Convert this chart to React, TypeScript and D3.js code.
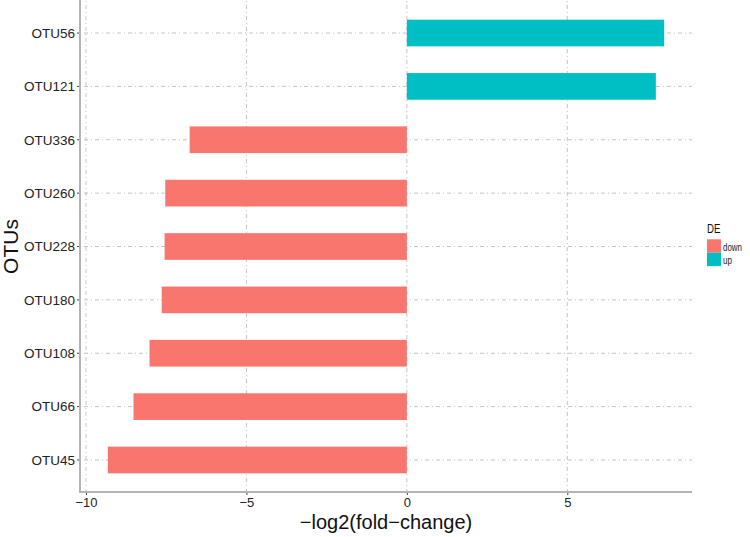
import React, { useRef, useEffect } from 'react';
import * as d3 from 'd3';

// OTUs from top to bottom
const otus = ['OTU56', 'OTU121', 'OTU336', 'OTU260', 'OTU228', 'OTU180', 'OTU108', 'OTU66', 'OTU45'];
const foldChange = [8.02, 7.76, -6.77, -7.53, -7.55, -7.64, -8.02, -8.52, -9.32];
const deGroups = ['down', 'up'];
const deColors = ['#F8766D', '#00BFC4'];
const xTicks = [-10, -5, 0, 5];

const App = () => {
  const svgRef = useRef<SVGSVGElement>(null);

  useEffect(() => {
    const svg = d3.select(svgRef.current);
    svg.selectAll('*').remove();

    const width = 750;
    const height = 537;
    const margin = { top: 1, right: 58, bottom: 45, left: 80 };
    const innerW = width - margin.left - margin.right;
    const innerH = height - margin.top - margin.bottom;
    const font = 'Liberation Sans, Arial, sans-serif';

    const data = otus.map((o, i) => ({ otu: o, value: foldChange[i], de: foldChange[i] < 0 ? 'down' : 'up' }));

    // ggplot-like 5% expansion on continuous axis
    const lo = d3.min(foldChange) as number;
    const hi = d3.max(foldChange) as number;
    const pad = (hi - lo) * 0.05;
    const x = d3.scaleLinear().domain([lo - pad, hi + pad]).range([0, innerW]);

    // discrete axis with 0.6 expansion
    const step = innerH / (otus.length - 1 + 1.2);
    const y = (o: string) => (otus.indexOf(o) + 0.6) * step;
    const barH = step * 0.5;

    const color = d3.scaleOrdinal<string, string>().domain(deGroups).range(deColors);

    const g = svg.append('g').attr('transform', `translate(${margin.left},${margin.top})`);

    // grid
    const gridStyle = (sel: any) =>
      sel.attr('stroke', '#c4c4c4').attr('stroke-width', 1).attr('stroke-dasharray', '1 3 4 3');
    g.selectAll('.vgrid')
      .data(xTicks)
      .enter()
      .append('line')
      .attr('x1', d => x(d))
      .attr('x2', d => x(d))
      .attr('y1', 0)
      .attr('y2', innerH)
      .call(gridStyle);
    g.selectAll('.hgrid')
      .data(otus)
      .enter()
      .append('line')
      .attr('x1', 0)
      .attr('x2', innerW)
      .attr('y1', d => y(d))
      .attr('y2', d => y(d))
      .call(gridStyle);

    // bars
    g.selectAll('.bar')
      .data(data)
      .enter()
      .append('rect')
      .attr('x', d => x(Math.min(0, d.value)))
      .attr('width', d => Math.abs(x(d.value) - x(0)))
      .attr('y', d => y(d.otu) - barH / 2)
      .attr('height', barH)
      .attr('fill', d => color(d.de));

    // axes
    const xAxis = d3.axisBottom(x).tickValues(xTicks).tickSize(3).tickPadding(3).tickFormat(d => String(d).replace('-', '\u2212'));
    const xg = g.append('g').attr('transform', `translate(0,${innerH})`).call(xAxis);
    xg.select('.domain').remove();
    xg.selectAll('line').attr('stroke', '#444');
    xg.selectAll('text').attr('font-size', 13).attr('font-family', font).attr('fill', '#222');

    const yg = g.append('g');
    otus.forEach(o => {
      yg.append('line').attr('x1', -3).attr('x2', 0).attr('y1', y(o)).attr('y2', y(o)).attr('stroke', '#444');
      yg.append('text')
        .attr('x', -5)
        .attr('y', y(o))
        .attr('dy', '0.36em')
        .attr('text-anchor', 'end')
        .attr('font-size', 13.5)
        .attr('font-family', font)
        .attr('fill', '#222')
        .text(o);
    });

    g.append('line').attr('x1', 0).attr('x2', 0).attr('y1', -1).attr('y2', innerH + 1)
      .attr('stroke', '#b3b3b3').attr('stroke-width', 2);
    g.append('line').attr('x1', -1).attr('x2', innerW).attr('y1', innerH).attr('y2', innerH)
      .attr('stroke', '#b3b3b3').attr('stroke-width', 2);

    // axis titles
    svg.append('text')
      .attr('x', margin.left + innerW / 2)
      .attr('y', 529)
      .attr('text-anchor', 'middle')
      .attr('font-size', 20)
      .attr('font-family', font)
      .attr('fill', '#111')
      .text('\u2212log2(fold\u2212change)');
    svg.append('text')
      .attr('transform', `translate(18,${margin.top + innerH / 2}) rotate(-90)`)
      .attr('text-anchor', 'middle')
      .attr('font-size', 21)
      .attr('font-family', font)
      .attr('fill', '#111')
      .text('OTUs');

    // legend (text is drawn narrow, as in the reference)
    const lg = svg.append('g').attr('transform', 'translate(707,222)');
    lg.append('text').attr('x', 0).attr('y', 11.3).attr('font-size', 12).attr('font-family', font)
      .attr('fill', '#111').attr('textLength', 13.5).attr('lengthAdjust', 'spacingAndGlyphs').text('DE');
    const keyH = 13.4;
    const lens = [19, 9];
    deGroups.forEach((d, i) => {
      lg.append('rect').attr('x', 0).attr('y', 17.3 + i * keyH).attr('width', 14).attr('height', keyH).attr('fill', color(d));
      lg.append('text')
        .attr('x', 16)
        .attr('y', 17.3 + i * keyH + keyH / 2 + 4.5)
        .attr('font-size', 11.5)
        .attr('font-family', font)
        .attr('fill', '#222')
        .attr('textLength', lens[i])
        .attr('lengthAdjust', 'spacingAndGlyphs')
        .text(d);
    });
  }, []);

  return <svg ref={svgRef} width={750} height={537} style={{ display: 'block', position: 'absolute', left: 0, top: 0 }} />;
};

export default App;
